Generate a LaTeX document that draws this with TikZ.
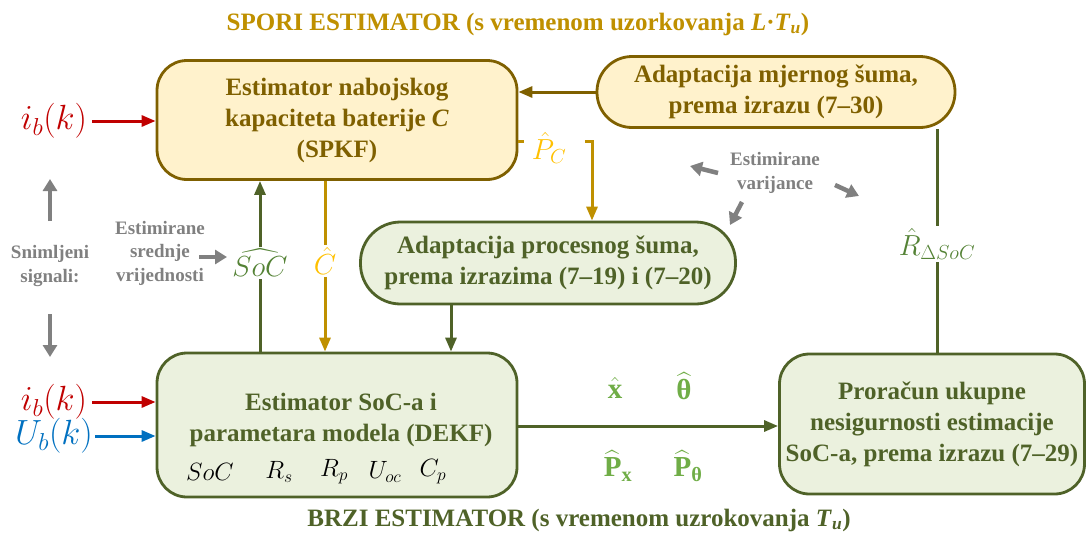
\RequirePackage{fix-cm}
\documentclass[tikz,border=0pt]{standalone}
\usepackage{fontspec}
\setmainfont{Liberation Serif}
\usepackage{amsmath,bm}
\usetikzlibrary{arrows.meta,positioning}
\definecolor{spdark}{HTML}{7F6000}
\definecolor{spfill}{HTML}{FFF2CC}
\definecolor{sptitle}{HTML}{BF9000}
\definecolor{fsdark}{HTML}{4F6228}
\definecolor{fsfill}{HTML}{EBF1DE}
\definecolor{estgreen}{HTML}{548235}
\definecolor{vecgreen}{HTML}{70AD47}
\definecolor{cyell}{HTML}{FFC000}
\definecolor{cgold}{HTML}{BF9000}
\definecolor{inred}{HTML}{C00000}
\definecolor{inblue}{HTML}{0070C0}
\definecolor{sgray}{HTML}{808080}

\begin{document}
\begin{tikzpicture}[x=1pt, y=-1pt,
     box/.style={line width=2.8pt, align=center, inner sep=0pt, font=\fontsize{25}{31}\selectfont\bfseries},
     slowbox/.style={box, draw=spdark, fill=spfill, text=spdark},
     fastbox/.style={box, draw=fsdark, fill=fsfill, text=fsdark},
     boxtxt/.style={align=center, inner sep=0pt, font=\fontsize{25}{31}\selectfont\bfseries},
     ttl/.style={inner sep=0pt, font=\fontsize{25}{30}\selectfont\bfseries},
     lnk/.style={line width=3pt},
     tip/.style={-{Triangle[length=14pt,width=11pt]}},
     graytxt/.style={text=sgray, align=center, inner sep=0pt, font=\fontsize{19}{23.5}\selectfont\bfseries},
     grayarr/.style={draw=sgray, line width=4.5pt, -{Triangle[length=12pt,width=14pt]}},
     inmath/.style={inner sep=0pt, font=\fontsize{35}{40}\selectfont},
     lblmath/.style={inner sep=2pt, font=\fontsize{29}{32}\selectfont},
     vecmath/.style={inner sep=0pt, font=\fontsize{29}{32}\selectfont\bfseries},
     varmath/.style={inner sep=0pt, font=\fontsize{25}{28}\selectfont}]
   \useasboundingbox (0,0) rectangle (1088,533);

   % naslovi
   \node[ttl, text=sptitle] (spori) at (518,24) {SPORI ESTIMATOR (s vremenom uzorkovanja \textit{L}·\textit{T}\textsubscript{\textit{u}})};
   \node[ttl, text=fsdark] (brzi) at (579,520) {BRZI ESTIMATOR (s vremenom uzrokovanja \textit{T}\textsubscript{\textit{u}})};

   % blokovi
   \node[slowbox, minimum width=360pt, minimum height=119pt, rounded corners=30pt] (spkf) at (337,120)
     {Estimator nabojskog\\kapaciteta baterije \textit{C}\\(SPKF)};
   \node[slowbox, minimum width=358pt, minimum height=71pt, rounded corners=35pt] (mjer) at (776,92)
     {Adaptacija mjernog šuma,\\prema izrazu (7--30)};
   \node[fastbox, minimum width=375pt, minimum height=82pt, rounded corners=40pt] (procn) at (548,263)
     {Adaptacija procesnog šuma,\\prema izrazima (7--19) i (7--20)};
   \node[fastbox, minimum width=360pt, minimum height=144pt, rounded corners=30pt] (dekf) at (337,425) {};
   \node[boxtxt, text=fsdark] (dekftxt) at (341,420) {Estimator SoC-a i\\parametara modela (DEKF)};
   \node[fastbox, minimum width=305pt, minimum height=140pt, rounded corners=30pt] (prr) at (932,424)
     {Proračun ukupne\\nesigurnosti estimacije\\SoC-a, prema izrazu (7--29)};

   % varijable DEKF-a
   \node[varmath] (vsoc) at (210,472) {$SoC$};
   \node[varmath] (vrs)  at (279,472) {$R_s$};
   \node[varmath] (vrp)  at (334,472) {$R_p$};
   \node[varmath] (vuoc) at (385,472) {$U_{oc}$};
   \node[varmath] (vcp)  at (433,472) {$C_p$};

   % ulazni signali
   \node[inmath, text=inred] (ibs) at (54,121) {$i_b(k)$};
   \node[inmath, text=inred] (ibf) at (54,402) {$i_b(k)$};
   \node[inmath, text=inblue] (ubf) at (54,436) {$U_b(k)$};
   \draw[lnk, tip, inred] ([xshift=5pt]ibs.east) -- (ibs.east -| spkf.west);
   \draw[lnk, tip, inred] ([xshift=5pt]ibf.east) -- (ibf.east -| dekf.west);
   \draw[lnk, tip, inblue] ([xshift=2pt]ubf.east) -- (ubf.east -| dekf.west);

   \node[graytxt] (snim) at (50,266) {Snimljeni\\signali:};
   \coordinate (sigupA) at (50,221);
   \coordinate (sigupB) at (50,179);
   \coordinate (sigdnA) at (50,314);
   \coordinate (sigdnB) at (50,357);
   \draw[grayarr] (sigupA) -- (sigupB);
   \draw[grayarr] (sigdnA) -- (sigdnB);

   \node[graytxt] (estsr) at (160,253) {Estimirane\\srednje\\vrijednosti};
   \coordinate (srA) at (199,257);
   \coordinate (srB) at (227,257);
   \draw[grayarr] (srA) -- (srB);

   % SoC i C izmedju estimatora
   \node[lblmath, text=estgreen] (soch) at (260,263) {$\widehat{SoC}$};
   \node[lblmath, text=cyell] (chat) at (325,261) {$\hat{C}$};
   \draw[lnk, fsdark] (dekf.north -| soch) -- (soch.south);
   \draw[lnk, tip, fsdark] (soch.north) -- (soch |- spkf.south);
   \draw[lnk, cgold] (chat |- spkf.south) -- (chat.north);
   \draw[lnk, tip, cgold] (chat.south) -- (chat |- dekf.north);

   % P_C prema adaptaciji procesnog suma
   \node[lblmath, text=cyell, inner sep=0pt] (pch) at (549,148) {$\hat{P}_C$};
   \coordinate (pcA) at (524,141);
   \coordinate (pcB) at (585,141);
   \coordinate (pcC) at (592,141);
   \draw[lnk, cgold] (spkf.east |- pcA) -- (pcA);
   \draw[lnk, tip, cgold] (pcB) -- (pcC) -- (pcC |- procn.north);

   \draw[lnk, tip, spdark] (mjer.west) -- (mjer.west -| spkf.east);
   \draw[lnk, tip, fsdark] (procn.south -| 451,0) -- (451,0 |- dekf.north);

   % R prema adaptaciji mjernog suma
   \node[lblmath, text=estgreen] (rdso) at (937,244) {$\hat{R}_{\Delta SoC}$};
   \draw[lnk, fsdark] (rdso |- mjer.south) -- (rdso.north);
   \draw[lnk, fsdark] (rdso.south) -- (rdso |- prr.north);

   % estimirane varijance
   \node[graytxt] (estvar) at (775,173) {Estimirane\\varijance};
   \coordinate (vaA) at (718,173);
   \coordinate (vaB) at (690,166);
   \coordinate (vbA) at (835,185);
   \coordinate (vbB) at (859,196);
   \coordinate (vcA) at (742,202);
   \coordinate (vcB) at (730,225);
   \draw[grayarr] (vaA) -- (vaB);
   \draw[grayarr] (vbA) -- (vbB);
   \draw[grayarr] (vcA) -- (vcB);

   % izlazi DEKF-a
   \draw[lnk, tip, fsdark] (dekf.east |- 0,426) -- (prr.west |- 0,426);
   \node[vecmath, text=vecgreen] (xh) at (615,388) {$\hat{\text{\textbf{x}}}$};
   \node[vecmath, text=vecgreen] (thh) at (684,386) {$\widehat{\text{\textbf{θ}}}$};
   \node[vecmath, text=vecgreen] (pxh) at (618,466) {$\widehat{\text{\textbf{P}}}_{\text{\textbf{x}}}$};
   \node[vecmath, text=vecgreen] (pthh) at (688,466) {$\widehat{\text{\textbf{P}}}_{\text{\textbf{θ}}}$};
\end{tikzpicture}
\end{document}
